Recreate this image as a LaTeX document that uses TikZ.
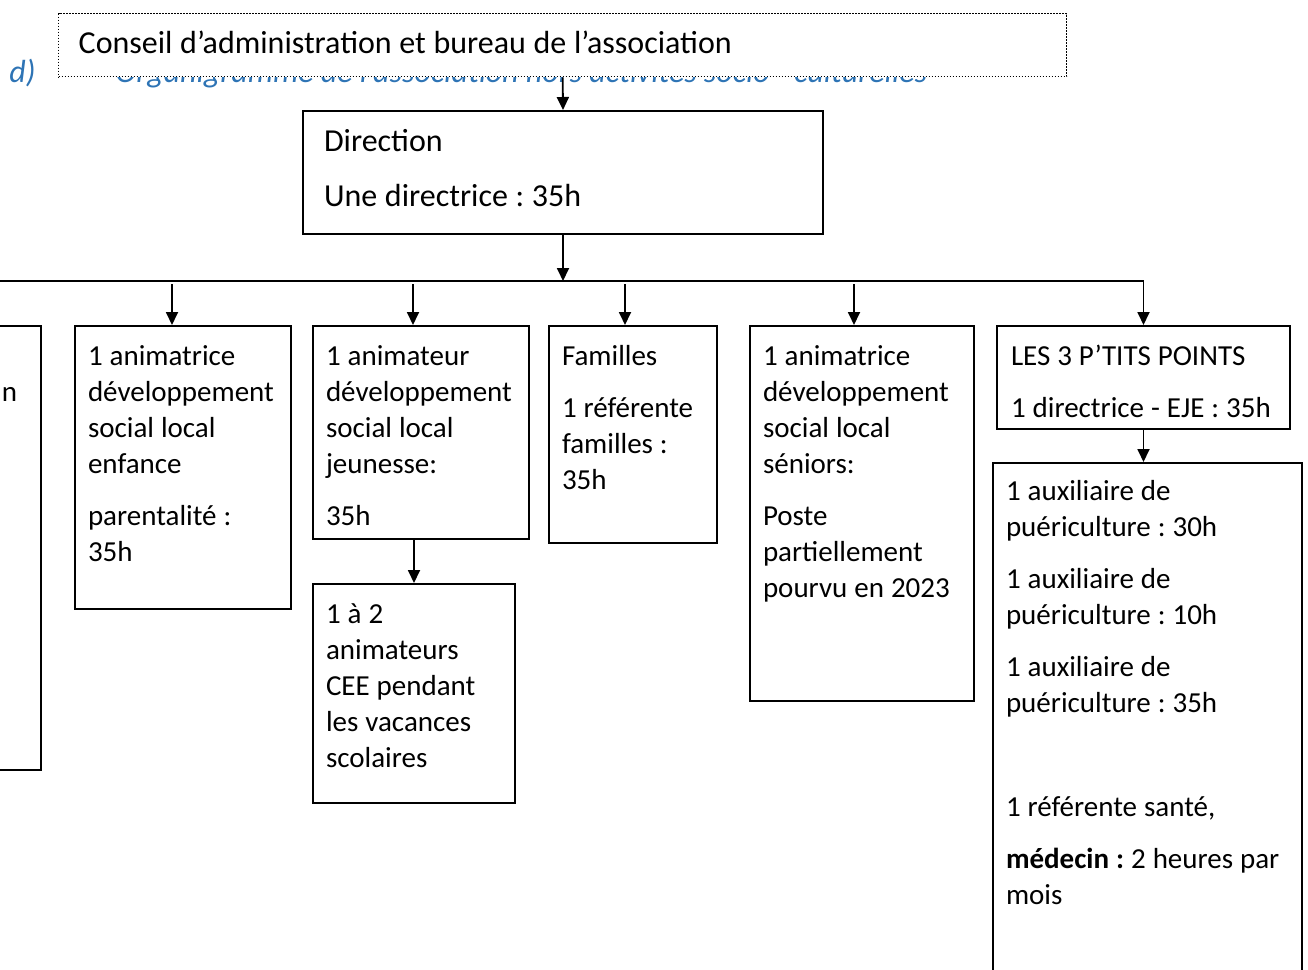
\documentclass[tikz,border=0pt]{standalone}
\usepackage{fontspec}
\setmainfont{Carlito}
\usepackage{xcolor}
\usetikzlibrary{positioning,arrows.meta,calc}
\frenchspacing
\hyphenpenalty=10000
\exhyphenpenalty=10000
\definecolor{headclr}{RGB}{46,116,181}
\newcommand{\boxfont}[2]{\fontsize{#1}{#2}\selectfont}
\tikzset{
  post/.style={rectangle,draw,line width=1pt,anchor=north west,
               inner xsep=6.5pt,inner ysep=0pt,text height=19.5pt,
               font=\boxfont{14.5}{18},
               execute at begin node={\spaceskip=0.24em plus 0.02em\relax}},
  board/.style={post,draw,dash pattern=on 0.7pt off 0.8pt,line width=0.7pt,
                fill=white,inner xsep=10pt,text height=20pt,
                font=\boxfont{16}{18}},
  head/.style={anchor=base west,inner sep=0pt,text=headclr,
               font=\boxfont{16}{18}\itshape},
  edge/.style={-{Triangle[length=6.5pt,width=6pt]},line width=0.9pt},
}

\begin{document}
\begin{tikzpicture}[x=0.5pt, y=-0.5pt]
\useasboundingbox (0,0) rectangle (1308,970);
\clip (0,0) rectangle (1308,970);

% ── heading, partly hidden by the board
\node[head] (lettre) at (9,82) {d)};
\node[head] (titre) at (115,82) {Organigramme de l’association hors activités socio - culturelles};
\node[board,text width=484pt,text depth=11.5pt] (conseil) at (58,13)
  {Conseil d’administration et bureau de l’association};

% ── direction
\node[post,font=\boxfont{16}{19.5},inner xsep=10.5pt,text width=239pt,text height=20pt,text depth=41.5pt] (dir) at (302,110)
  {Direction\\[8pt] Une directrice : 35h};

% ── services
\node[post,inner xsep=12pt,text width=96pt,text depth=202.5pt] (anim) at (-200,325)
  {\mbox{}\\ \mbox{}\hfill n};
\node[post,text width=95pt,text depth=122pt] (enf) at (74,325)
  {1 animatrice\\ développement\\ social local\\ enfance\\[8pt] parentalité :\\ 35h};
\node[post,text width=95pt,text depth=87pt] (jeu) at (312,325)
  {1 animateur\\ développement\\ social local\\ jeunesse:\\[8pt] 35h};
\node[post,text width=88pt,text depth=90pt] (cee) at (312,583)
  {1 à 2\\ animateurs\\ CEE pendant\\ les vacances\\ scolaires};
\node[post,text width=71pt,text depth=89pt] (fam) at (548,325)
  {Familles\\[8pt] 1 référente\\ familles :\\ 35h};
\node[post,text width=99pt,text depth=168pt] (sen) at (749,325)
  {1 animatrice\\ développement\\ social local\\ séniors:\\[8pt] Poste\\ partiellement\\ \mbox{pourvu en 2023}};
\node[post,inner xsep=7pt,text width=132.5pt,text depth=32pt] (ptits) at (996,325)
  {\mbox{LES 3 P’TITS POINTS}\\[8pt] \mbox{1 directrice - EJE : 35h}};
\node[post,text width=141.5pt,text height=18.5pt,text depth=261.5pt] (creche) at (992,462)
  {1 auxiliaire de\\ puériculture : 30h\\[8pt] 1 auxiliaire de\\ puériculture : 10h\\[8pt]
   1 auxiliaire de\\ puériculture : 35h\\[8pt] \mbox{}\\[8pt] 1 référente santé,\\[8pt]
   \mbox{\textbf{médecin :} 2 heures par}\\ mois};

% ── connectors
\coordinate (busL) at (0,281);
\draw[edge] (conseil.south) -- (dir.north);
\draw[edge] (dir.south) -- (dir.south |- busL);
\draw[edge] (busL) -| (ptits.north);
\draw[edge] (172,284) -- (172,0 |- enf.north);
\draw[edge] (413,284) -- (413,0 |- jeu.north);
\draw[edge] (625,284) -- (625,0 |- fam.north);
\draw[edge] (854,284) -- (854,0 |- sen.north);
\draw[edge] (cee.north |- jeu.south) -- (cee.north);
\draw[edge] (ptits.south) -- (ptits.south |- creche.north);

\end{tikzpicture}
\end{document}
